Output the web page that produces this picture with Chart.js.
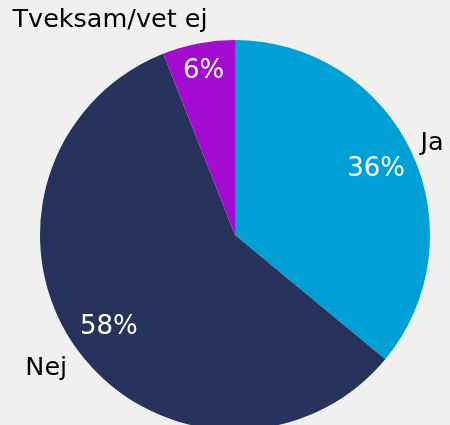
<!DOCTYPE html>
<html>
<head>
<meta charset="utf-8">
<script src="https://cdn.jsdelivr.net/npm/chart.js@4.4.1/dist/chart.umd.min.js"></script>
<style>
  html, body { margin: 0; padding: 0; background: #f0f0f0; overflow: hidden; }
  #wrap { width: 450px; height: 430px; }
</style>
</head>
<body>
<div id="wrap"><canvas id="myChart" width="450" height="430"></canvas></div>
<script>
const categories = ["Ja", "Nej", "Tveksam/vet ej"];
const values = [36, 58, 6];
const colors = ["#00a0d6", "#27335c", "#a40bd0"];

const FONT = "'DejaVu Sans', Verdana, sans-serif";

// draws the percent inside each slice and the category name outside it
const sliceLabels = {
  id: "sliceLabels",
  afterDatasetsDraw(chart) {
    const ctx = chart.ctx;
    const meta = chart.getDatasetMeta(0);
    ctx.save();
    meta.data.forEach((arc, i) => {
      const mid = (arc.startAngle + arc.endAngle) / 2;
      const cos = Math.cos(mid);
      const sin = Math.sin(mid);
      const r = arc.outerRadius;

      // percent label
      ctx.font = "26px " + FONT;
      ctx.fillStyle = "#ffffff";
      ctx.textAlign = "center";
      ctx.textBaseline = "middle";
      const pr = i === 2 ? r * 0.86 : r * 0.8;
      ctx.fillText(values[i] + "%", arc.x + pr * cos, arc.y + pr * sin + 1);

      // category label
      ctx.fillStyle = "#000000";
      ctx.font = "25.5px " + FONT;
      const lr = r + 10;
      let x = arc.x + lr * cos;
      let y = arc.y + lr * sin + sin * 17 + 3;
      ctx.textAlign = cos >= 0 ? "left" : "right";
      if (Math.abs(cos) < 0.25) x += 11;
      if (cos < 0 && sin > 0) x -= 2;
      ctx.fillText(categories[i], x, y);
    });
    ctx.restore();
  },
};

let chart_data = {
  labels: categories,
  datasets: [
    {
      data: values,
      backgroundColor: colors,
      borderWidth: 0,
    },
  ],
};

const config = {
  type: "pie",
  data: chart_data,
  options: {
    responsive: false,
    animation: false,
    layout: {
      padding: { left: 40, right: 20, top: 40, bottom: 0 },
    },
    plugins: {
      legend: { display: false },
      tooltip: { enabled: false },
    },
  },
  plugins: [sliceLabels],
};

let myChart2D = document.getElementById("myChart").getContext("2d");
new Chart(myChart2D, config);
</script>
</body>
</html>
